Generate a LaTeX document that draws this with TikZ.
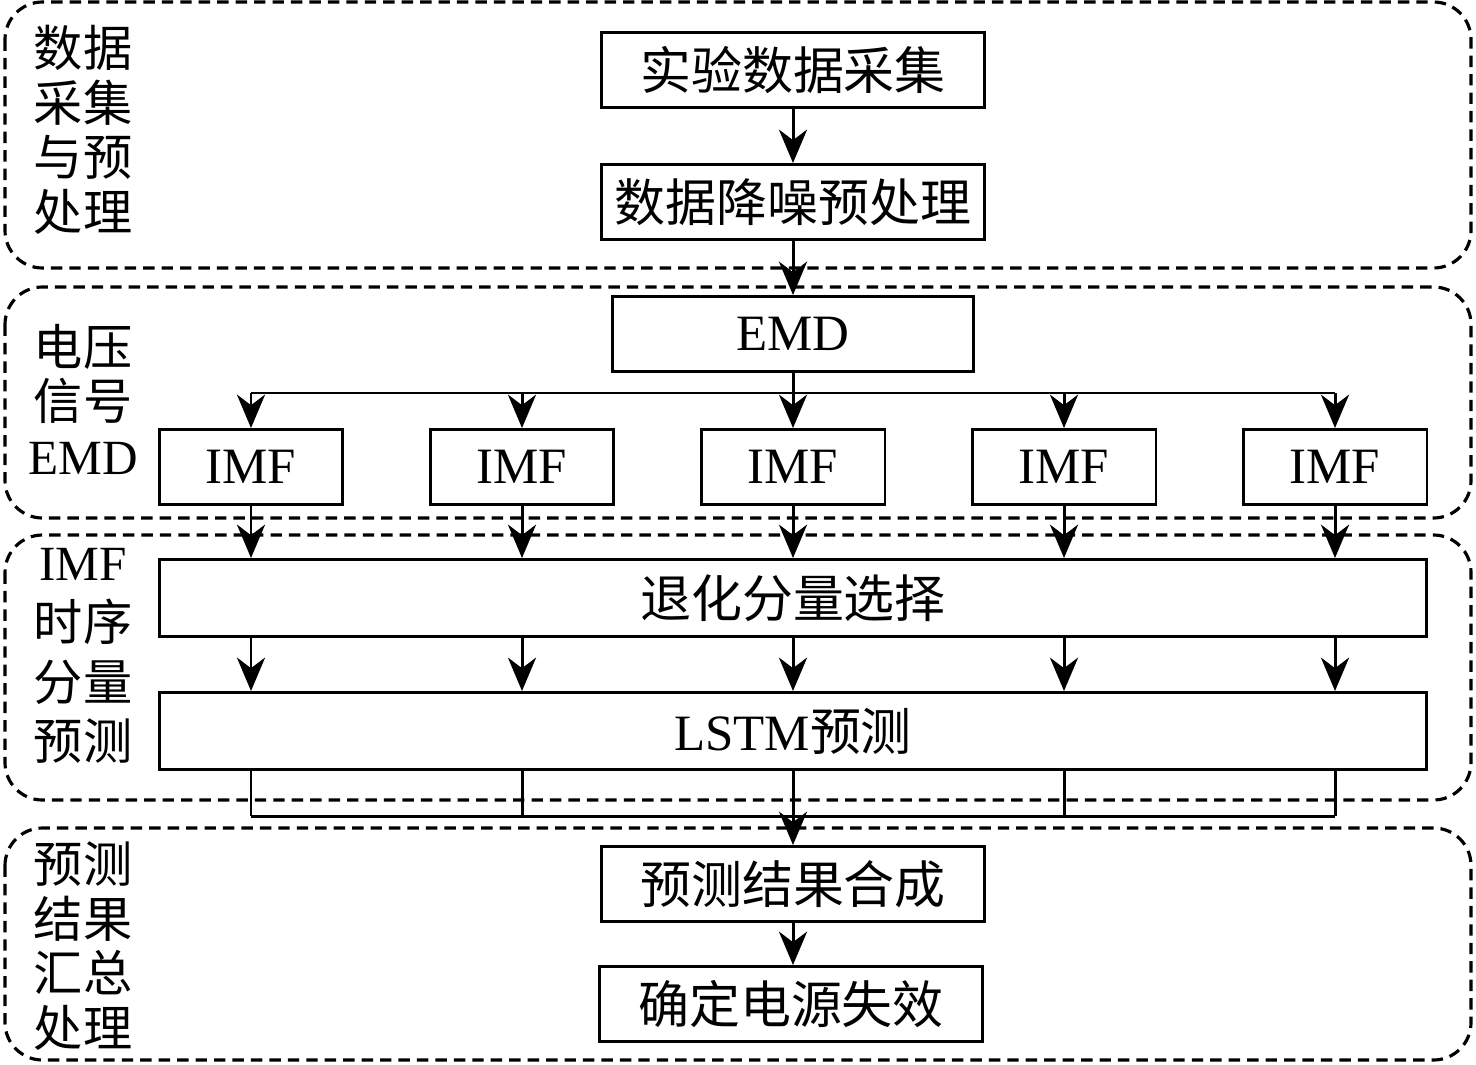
\documentclass[tikz,border=0pt]{standalone}
\usepackage{fontspec}
\setmainfont{Liberation Serif}
\newfontfamily\cjk{Noto Sans CJK SC}
\usetikzlibrary{arrows.meta,positioning}

\tikzset{
  stage/.style={draw, line width=1.8pt, dash pattern=on 6.5pt off 4pt, rounded corners=0.75cm},
  box/.style={draw, line width=1.7pt, inner sep=0pt, minimum height=1.5cm,
    font=\fontsize{29}{34}\selectfont},
  stagelabel/.style={align=center, inner sep=0pt, font=\fontsize{28}{31}\selectfont},
  link/.style={line width=1.7pt},
  arr/.style={link, -{Stealth[length=19pt, width=16pt, inset=6pt]}}
}

\begin{document}
\begin{tikzpicture}[x=0.02cm, y=-0.02cm]
\useasboundingbox (0,0) rectangle (1476,1064);

% dashed stages
\draw[stage] (5,2) rectangle (1471,268);
\draw[stage] (5,287) rectangle (1471,518);
\draw[stage] (5,535) rectangle (1471,800);
\draw[stage] (5,828) rectangle (1471,1060);

\node[stagelabel] (lab1) at (83,130) {\cjk 数据\\\cjk 采集\\\cjk 与预\\\cjk 处理};
\node[stagelabel] (lab2) at (83,399) {\cjk 电压\\\cjk 信号\\EMD};
\node[stagelabel, font=\fontsize{28}{34}\selectfont] (lab3) at (83,656) {IMF\\\cjk 时序\\\cjk 分量\\\cjk 预测};
\node[stagelabel] (lab4) at (83,946) {\cjk 预测\\\cjk 结果\\\cjk 汇总\\\cjk 处理};

% main boxes
\node[box, minimum width=7.66cm] (collect) at (793,70) {\cjk 实验数据采集};
\node[box, minimum width=7.66cm] (denoise) at (793,202) {\cjk 数据降噪预处理};
\node[box, minimum width=7.24cm] (emd) at (793,334) {EMD};
\foreach \i/\xx in {1/251,2/522,3/793,4/1064,5/1335}
  \node[box, minimum width=3.68cm] (imf\i) at (\xx,467) {IMF};
\node[box, minimum width=25.36cm, minimum height=1.54cm] (select) at (793,598) {\cjk 退化分量选择};
\node[box, minimum width=25.36cm, minimum height=1.54cm] (lstm) at (793,731) {LSTM{\cjk 预测}};
\node[box, minimum width=7.66cm] (merge) at (793,884) {\cjk 预测结果合成};
\node[box, minimum width=7.66cm] (decide) at (791,1004) {\cjk 确定电源失效};

\coordinate (split) at (793,393);
\coordinate (join) at (793,816);

% connectors
\draw[arr] (collect) -- (denoise);
\draw[arr] (denoise) -- (emd);
\draw[link] (emd) -- (split);
\draw[link] (split -| imf1) -- (split -| imf5);
\foreach \i in {1,...,5}{
  \draw[arr] (split -| imf\i) -- (imf\i.north);
  \draw[arr] (imf\i.south) -- (select.north -| imf\i);
  \draw[arr] (select.south -| imf\i) -- (lstm.north -| imf\i);
  \draw[link] (lstm.south -| imf\i) -- (join -| imf\i);
}
\draw[link] (join -| imf1) -- (join -| imf5);
\draw[arr] (join) -- (merge);
\draw[arr] (merge) -- (decide.north -| merge);
\end{tikzpicture}
\end{document}
